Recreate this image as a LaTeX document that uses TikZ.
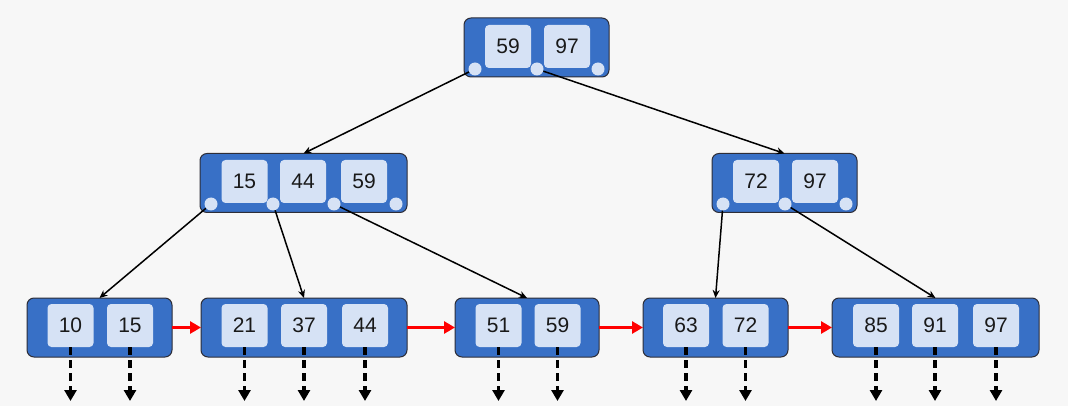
\documentclass[tikz,border=0pt]{standalone}
\usepackage{fontspec}
\setmainfont{Liberation Sans}
\usetikzlibrary{arrows.meta}
\definecolor{bgray}{RGB}{247,247,247}
\definecolor{pblue}{RGB}{56,112,198}
\definecolor{kblue}{RGB}{214,226,245}
\definecolor{pborder}{RGB}{45,45,55}

\begin{document}
\begin{tikzpicture}[x=1pt, y=-1pt, font=\fontsize{21}{25}\selectfont,
  page/.style={draw=pborder, line width=1pt, fill=pblue, rounded corners=7pt,
    minimum height=59pt, inner sep=0pt, outer sep=0pt},
  key/.style={fill=kblue, rounded corners=4pt, minimum width=46pt,
    minimum height=43pt, inner sep=0pt, text=black!90},
  ptr/.style={circle, fill=kblue, minimum size=13pt, inner sep=0pt},
  treeedge/.style={line width=1.5pt, -{Stealth[length=8pt, width=7pt]}},
  leaflink/.style={red, line width=3.2pt, -{Triangle[length=11pt, width=12pt]}},
  childptr/.style={line width=3.5pt, dash pattern=on 8pt off 5pt,
    -{Triangle[length=11pt, width=12pt]}}]
  % Background
  \fill[bgray] (0,0) rectangle (1068,406);
  \useasboundingbox (0,0) rectangle (1068,406);

  % Pages
  \node[page, minimum width=145pt] (root) at (536.5,47.5) {};
  \node[page, minimum width=207pt] (iA) at (303.5,183) {};
  \node[page, minimum width=145pt] (iB) at (784.5,183) {};
  \foreach \n/\x/\w in {lA/99.5/145, lB/304/206, lC/527/144, lD/715.5/145, lE/935.5/207}
    \node[page, minimum width=\w pt] (\n) at (\x,327.5) {};

  % Keys
  \foreach \n/\x/\y/\k in {
    root/508/46.5/59, root/567/46.5/97,
    iA/244.5/181.5/15, iA/303/181.5/44, iA/364/181.5/59,
    iB/756/181.5/72, iB/815/181.5/97,
    lA/70.5/325.5/10, lA/130/325.5/15,
    lB/244.5/325.5/21, lB/304/325.5/37, lB/365/325.5/44,
    lC/498.5/325.5/51, lC/557.5/325.5/59,
    lD/686/325.5/63, lD/745.5/325.5/72,
    lE/876/325.5/85, lE/935/325.5/91, lE/996/325.5/97}{
    \node[key] (\n-\k) at (\x,\y) {\k};
  }

  % Child pointers
  \foreach \n/\x/\y in {rp1/475/69, rp2/537/69, rp3/598/69,
    ap1/211/204, ap2/273/204, ap3/334/204, ap4/396/204,
    bp1/723/204, bp2/785/204, bp3/846/204}
    \node[ptr] (\n) at (\x,\y) {};

  % Tree edges
  \foreach \a/\b in {rp1/iA, rp2/iB, ap1/lA, ap2/lB, ap3/lC, bp1/lD, bp2/lE}
    \draw[treeedge] (\a) -- (\b.north);

  % Leaf links
  \foreach \a/\b in {lA/lB, lB/lC, lC/lD, lD/lE}
    \draw[leaflink] (\a.east) -- (\b.west);

  % Record pointers
  \foreach \k in {lA-10, lA-15, lB-21, lB-37, lB-44, lC-51, lC-59,
    lD-63, lD-72, lE-85, lE-91, lE-97}{
    \coordinate (\k-out) at (\k.south |- 0,401);
    \draw[childptr] (\k.south) -- (\k-out);
  }
\end{tikzpicture}
\end{document}
